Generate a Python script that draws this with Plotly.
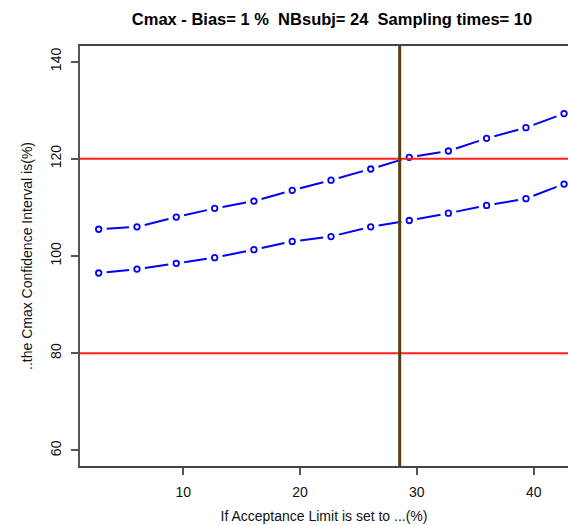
import plotly.graph_objects as go
import numpy as np

# ---- data ----
acceptance_limit = [2.76, 6.04, 9.40, 12.69, 16.05, 19.33, 22.65, 26.05, 29.35, 32.70, 35.97, 39.34, 42.60]
ci_upper = [105.5, 106.0, 108.0, 109.8, 111.3, 113.5, 115.6, 117.9, 120.3, 121.6, 124.2, 126.4, 129.3]
ci_lower = [96.5, 97.3, 98.5, 99.65, 101.3, 103.0, 104.0, 106.0, 107.3, 108.8, 110.4, 111.8, 114.8]
ref_lines = [80, 120]
chosen_limit = 28.53
x_ticks = [10, 20, 30, 40]
y_ticks = [60, 80, 100, 120, 140]

W, H = 568, 525
ML, MR, MT, MB = 80, 0, 46, 59
xr = [1.16, 42.94]
yr = [56.8, 143.2]
pw, ph = W - ML - MR, H - MT - MB
sx = pw / (xr[1] - xr[0])
sy = ph / (yr[1] - yr[0])
GAP = 8  # px gap around each point (R type="b")


def gapped(xs, ys):
    gx, gy = [], []
    for i in range(len(xs) - 1):
        dxp = (xs[i + 1] - xs[i]) * sx
        dyp = (ys[i + 1] - ys[i]) * sy
        L = np.hypot(dxp, dyp)
        if L <= 2 * GAP:
            continue
        f = GAP / L
        gx += [xs[i] + f * (xs[i + 1] - xs[i]), xs[i + 1] - f * (xs[i + 1] - xs[i]), None]
        gy += [ys[i] + f * (ys[i + 1] - ys[i]), ys[i + 1] - f * (ys[i + 1] - ys[i]), None]
    return gx, gy


fig = go.Figure()
for ys in (ci_upper, ci_lower):
    gx, gy = gapped(acceptance_limit, ys)
    fig.add_trace(go.Scatter(x=gx, y=gy, mode="lines",
                             line=dict(color="#0000FF", width=2),
                             hoverinfo="skip", showlegend=False))
    fig.add_trace(go.Scatter(x=acceptance_limit, y=ys, mode="markers",
                             marker=dict(symbol="circle-open", size=5.5, color="#0000FF",
                                         line=dict(width=1.8, color="#0000FF")),
                             showlegend=False))

for v in ref_lines:
    fig.add_shape(type="line", xref="paper", x0=0, x1=1, yref="y", y0=v, y1=v,
                  line=dict(color="#FF2020", width=2), layer="above")
fig.add_shape(type="line", xref="x", x0=chosen_limit, x1=chosen_limit, yref="paper", y0=0, y1=1,
              line=dict(color="#5C3A0E", width=3), layer="above")

fig.update_layout(
    width=W, height=H,
    margin=dict(l=ML, r=MR, t=MT, b=MB, pad=0),
    paper_bgcolor="white", plot_bgcolor="white",
    font=dict(family="Liberation Sans, Arial, sans-serif", size=14, color="#111"),
    title=dict(text="<b>Cmax - Bias= 1 %  NBsubj= 24  Sampling times= 10</b>",
               x=(ML + pw / 2 + 8) / W, xanchor="center", y=1 - 19 / H, yanchor="middle",
               font=dict(size=16.5, color="#000")),
    showlegend=False,
)
fig.update_xaxes(range=xr, tickvals=x_ticks, showgrid=False, zeroline=False,
                 showline=True, linecolor="#444", linewidth=1.5, mirror=True,
                 ticks="outside", ticklen=7, tickcolor="#555", tickwidth=1.5,
                 ticklabelstandoff=5,
                 title=dict(text="If Acceptance Limit is set to ...(%)", standoff=13,
                            font=dict(size=14)))
fig.update_yaxes(range=yr, tickvals=y_ticks, showgrid=False, zeroline=False,
                 showline=True, linecolor="#555", linewidth=1.5, mirror=False,
                 ticks="outside", ticklen=7, tickcolor="#555", tickwidth=1.5,
                 tickangle=-90, ticklabelstandoff=5,
                 title=dict(text="..the Cmax Confidence Interval is(%)", standoff=12,
                            font=dict(size=14)))

fig.write_html("out.html", config={"displayModeBar": False},
               post_script="document.body.style.margin='0';")
